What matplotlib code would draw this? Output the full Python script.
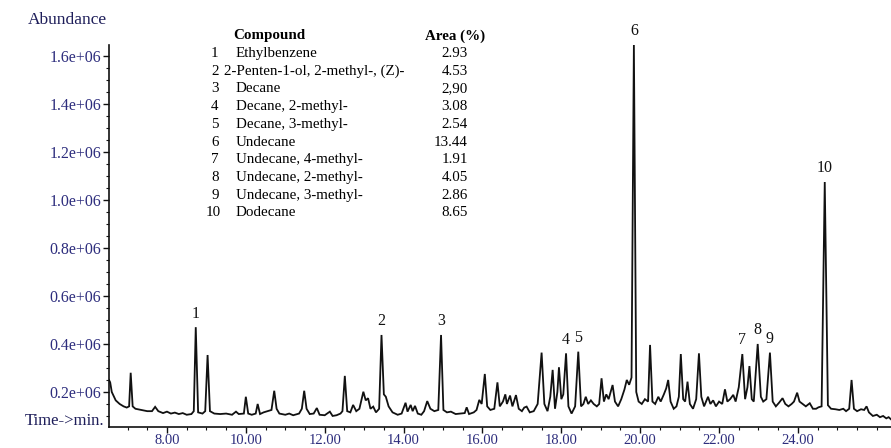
import matplotlib
matplotlib.use("Agg")
import matplotlib.pyplot as plt
from matplotlib.ticker import MultipleLocator, FixedLocator

# ---------------- data ----------------
trace_time = [6.53, 6.56, 6.60, 6.70, 6.80, 6.90, 6.98, 7.04, 7.08, 7.13, 7.20, 7.35, 7.50, 7.62, 7.70, 7.78,
              7.90, 8.00, 8.10, 8.20, 8.30, 8.40, 8.50, 8.62, 8.68, 8.73, 8.79, 8.90, 8.97, 9.03, 9.09, 9.20,
              9.35, 9.50, 9.65, 9.75, 9.82, 9.95, 10.00, 10.06, 10.15, 10.25, 10.30, 10.36, 10.45, 10.55,
              10.65, 10.72, 10.78, 10.85, 11.00, 11.10, 11.20, 11.35, 11.42, 11.48, 11.54, 11.62, 11.72,
              11.80, 11.87, 12.00, 12.13, 12.20, 12.30, 12.40, 12.45, 12.51, 12.57, 12.65, 12.72, 12.80,
              12.88, 12.98, 13.04, 13.10, 13.16, 13.23, 13.30, 13.38, 13.44, 13.50, 13.55, 13.62, 13.72,
              13.85, 13.95, 14.05, 14.10, 14.18, 14.23, 14.29, 14.36, 14.45, 14.52, 14.60, 14.68, 14.78,
              14.88, 14.95, 15.01, 15.10, 15.20, 15.32, 15.45, 15.55, 15.60, 15.66, 15.78, 15.85, 15.92,
              15.98, 16.06, 16.12, 16.20, 16.30, 16.38, 16.44, 16.52, 16.58, 16.62, 16.70, 16.76, 16.85,
              16.92, 17.00, 17.06, 17.12, 17.20, 17.30, 17.40, 17.50, 17.57, 17.65, 17.72, 17.78, 17.84,
              17.90, 17.94, 18.00, 18.05, 18.12, 18.18, 18.26, 18.35, 18.43, 18.50, 18.56, 18.62, 18.68,
              18.75, 18.82, 18.90, 18.96, 19.02, 19.08, 19.14, 19.20, 19.30, 19.36, 19.44, 19.52, 19.60,
              19.66, 19.72, 19.78, 19.84, 19.90, 19.96, 20.04, 20.12, 20.20, 20.25, 20.31, 20.38, 20.46,
              20.52, 20.60, 20.66, 20.71, 20.77, 20.85, 20.92, 20.98, 21.03, 21.09, 21.14, 21.20, 21.26,
              21.34, 21.42, 21.49, 21.55, 21.62, 21.72, 21.78, 21.85, 21.92, 22.00, 22.08, 22.15, 22.21,
              22.28, 22.36, 22.42, 22.50, 22.59, 22.66, 22.72, 22.77, 22.83, 22.88, 22.98, 23.06, 23.12,
              23.20, 23.29, 23.36, 23.44, 23.52, 23.61, 23.68, 23.76, 23.84, 23.90, 23.98, 24.04, 24.12,
              24.20, 24.30, 24.38, 24.46, 24.52, 24.60, 24.68, 24.76, 24.84, 24.95, 25.05, 25.15, 25.22,
              25.30, 25.36, 25.42, 25.50, 25.60, 25.68, 25.74, 25.80, 25.90, 26.00, 26.08, 26.16, 26.24,
              26.30, 26.36]
trace_abund = [0.250, 0.240, 0.200, 0.165, 0.150, 0.140, 0.135, 0.140, 0.280, 0.140, 0.130, 0.125, 0.120, 0.120,
               0.138, 0.120, 0.112, 0.118, 0.110, 0.114, 0.108, 0.112, 0.105, 0.108, 0.120, 0.470, 0.115,
               0.110, 0.120, 0.354, 0.120, 0.110, 0.108, 0.110, 0.105, 0.118, 0.108, 0.110, 0.180, 0.110,
               0.105, 0.110, 0.150, 0.108, 0.115, 0.120, 0.125, 0.205, 0.130, 0.110, 0.105, 0.110, 0.103,
               0.110, 0.130, 0.205, 0.130, 0.108, 0.110, 0.133, 0.105, 0.103, 0.118, 0.100, 0.103, 0.110,
               0.120, 0.267, 0.120, 0.115, 0.146, 0.120, 0.130, 0.201, 0.165, 0.174, 0.130, 0.139, 0.115,
               0.130, 0.4375, 0.190, 0.180, 0.140, 0.115, 0.105, 0.110, 0.155, 0.118, 0.146, 0.120, 0.142,
               0.110, 0.105, 0.120, 0.162, 0.130, 0.120, 0.125, 0.4375, 0.125, 0.115, 0.118, 0.108, 0.110,
               0.112, 0.136, 0.108, 0.115, 0.125, 0.167, 0.150, 0.275, 0.140, 0.125, 0.130, 0.240, 0.140,
               0.160, 0.190, 0.150, 0.185, 0.140, 0.187, 0.130, 0.120, 0.135, 0.139, 0.115, 0.120, 0.150,
               0.364, 0.150, 0.120, 0.180, 0.292, 0.130, 0.200, 0.303, 0.170, 0.190, 0.361, 0.140, 0.110,
               0.140, 0.368, 0.140, 0.150, 0.180, 0.150, 0.165, 0.150, 0.140, 0.150, 0.257, 0.160, 0.190,
               0.170, 0.229, 0.160, 0.140, 0.170, 0.210, 0.250, 0.230, 0.260, 1.646, 0.200, 0.160, 0.150,
               0.170, 0.160, 0.396, 0.160, 0.150, 0.180, 0.160, 0.190, 0.215, 0.250, 0.160, 0.130, 0.140,
               0.180, 0.358, 0.170, 0.160, 0.243, 0.150, 0.130, 0.170, 0.361, 0.180, 0.140, 0.180, 0.150,
               0.165, 0.140, 0.160, 0.150, 0.211, 0.160, 0.170, 0.188, 0.160, 0.220, 0.358, 0.170, 0.220,
               0.308, 0.170, 0.160, 0.400, 0.180, 0.160, 0.170, 0.364, 0.160, 0.140, 0.155, 0.174, 0.150,
               0.140, 0.150, 0.160, 0.197, 0.160, 0.150, 0.140, 0.153, 0.130, 0.130, 0.136, 0.140, 1.075,
               0.145, 0.130, 0.128, 0.125, 0.130, 0.120, 0.130, 0.250, 0.130, 0.120, 0.128, 0.125, 0.140,
               0.115, 0.100, 0.105, 0.095, 0.100, 0.090, 0.095, 0.086]

peak_labels = ["1", "2", "3", "4", "5", "6", "7", "8", "9", "10"]
peak_time = [8.73, 13.44, 14.95, 18.12, 18.43, 19.84, 22.59, 22.98, 23.29, 24.68]
peak_abund = [0.470, 0.4375, 0.4375, 0.361, 0.368, 1.646, 0.358, 0.400, 0.364, 1.075]

compounds = ["Ethylbenzene", "2-Penten-1-ol, 2-methyl-, (Z)-", "Decane", "Decane, 2-methyl-",
             "Decane, 3-methyl-", "Undecane", "Undecane, 4-methyl-", "Undecane, 2-methyl-",
             "Undecane, 3-methyl-", "Dodecane"]
areas = ["2.93", "4.53", "2,90", "3.08", "2.54", "13.44", "1.91", "4.05", "2.86", "8.65"]

x_ticks = [8, 10, 12, 14, 16, 18, 20, 22, 24]
x_tick_labels = ["8.00", "10.00", "12.00", "14.00", "16.00", "18.00", "20.00", "22.00", "24.00"]
y_ticks = [0.2, 0.4, 0.6, 0.8, 1.0, 1.2, 1.4, 1.6]
y_tick_labels = ["0.2e+06", "0.4e+06", "0.6e+06", "0.8e+06", "1.0e+06", "1.2e+06", "1.4e+06", "1.6e+06"]

# ---------------- figure ----------------
W, H = 891, 448
fig = plt.figure(figsize=(W / 100, H / 100), dpi=100)
fig.patch.set_facecolor("white")
serif = ["Liberation Serif", "DejaVu Serif"]
navy = "#2d2d7d"

def px(x, y):
    return x / W, 1 - y / H

left, right, top, bottom = 109, 891, 45, 427
ax = fig.add_axes([left / W, 1 - bottom / H, (right - left) / W, (bottom - top) / H])
ax.plot(trace_time, trace_abund, color="#111111", lw=1.3, solid_joinstyle="miter")
ax.set_xlim(6.53, 26.36)
ax.set_ylim(0.054, 1.646)

for s in ["top", "right"]:
    ax.spines[s].set_visible(False)
for s in ["left", "bottom"]:
    ax.spines[s].set_linewidth(1.2)
    ax.spines[s].set_color("#111111")

ax.xaxis.set_major_locator(FixedLocator(x_ticks))
ax.set_xticklabels(x_tick_labels)
ax.xaxis.set_minor_locator(MultipleLocator(0.5))
ax.yaxis.set_major_locator(FixedLocator(y_ticks))
ax.set_yticklabels(y_tick_labels)
ax.yaxis.set_minor_locator(MultipleLocator(0.05))
ax.tick_params(axis="y", which="major", length=4, width=1, color="#111111", pad=1.5,
               labelsize=11.5, labelcolor=navy)
ax.tick_params(axis="x", which="major", length=4, width=1, color="#111111", pad=1,
               labelsize=10.5, labelcolor=navy)
ax.tick_params(axis="both", which="minor", length=2, width=0.8, color="#111111")
for lab in ax.get_xticklabels() + ax.get_yticklabels():
    lab.set_family(serif)

for lab, t, v in zip(peak_labels, peak_time, peak_abund):
    ax.annotate(lab, (t, v), xytext=(0, 4), textcoords="offset points", ha="center", va="bottom",
                fontsize=11.5, family=serif, color="#111111", annotation_clip=False)

fig.text(*px(28, 20), "Abundance", ha="left", va="center", fontsize=12.5, family=serif, color="#1e1e5a")
fig.text(*px(104, 421), "Time->min.", ha="right", va="center", fontsize=12, family=serif, color="#1e1e5a")

# compound table
fs = 10.8
row0, dy = 53.5, 17.7
fig.text(*px(233, 36), "Compound", ha="left", va="center", fontsize=fs, family=serif, weight="bold")
fig.text(*px(425, 36), "Area (%)", ha="left", va="center", fontsize=fs, family=serif, weight="bold")
for i, (name, area) in enumerate(zip(compounds, areas)):
    y = row0 + dy * i
    num = str(i + 1)
    fig.text(*px(211 if len(num) == 1 else 206, y), num, ha="left", va="center", fontsize=fs, family=serif)
    fig.text(*px(224 if i == 1 else 236, y), name, ha="left", va="center", fontsize=fs, family=serif)
    fig.text(*px(468, y), area, ha="right", va="center", fontsize=fs, family=serif)

fig.savefig("out.png", dpi=100, facecolor="white")
